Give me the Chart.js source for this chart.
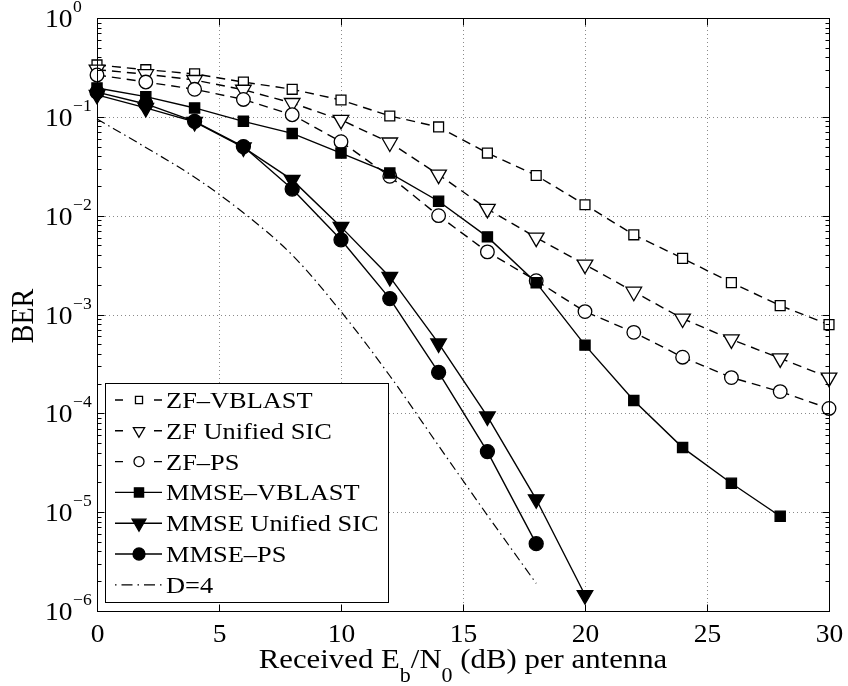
<!DOCTYPE html>
<html>
<head>
<meta charset="utf-8">
<script src="https://cdn.jsdelivr.net/npm/chart.js@4.4.1/dist/chart.umd.min.js"></script>
<style>
  html, body { margin: 0; padding: 0; background: #fff; }
  #wrap { width: 848px; height: 686px; }
</style>
</head>
<body>
<div id="wrap"><canvas id="berChart" width="848" height="686"></canvas></div>
<script>
// BER vs received Eb/N0 (dB)
const snrDb = [0, 2, 4, 6, 8, 10, 12, 14, 16, 18, 20, 22, 24, 26, 28, 30];

const zfVblast    = [0.335, 0.30, 0.272, 0.225, 0.19, 0.148, 0.102, 0.079, 0.043, 0.0255, 0.0129, 0.0064, 0.0037, 0.0021, 0.00123, 0.00079];
const zfUnified   = [0.30, 0.27, 0.236, 0.188, 0.138, 0.093, 0.055, 0.026, 0.0117, 0.006, 0.0032, 0.0017, 0.00091, 0.00056, 0.00036, 0.00023];
const zfPs        = [0.265, 0.225, 0.19, 0.15, 0.105, 0.056, 0.025, 0.0100, 0.0043, 0.0022, 0.00107, 0.00066, 0.00037, 0.00023, 0.000166, 0.000112];
const mmseVblast  = [0.196, 0.16, 0.123, 0.09, 0.068, 0.043, 0.027, 0.014, 0.0061, 0.0021, 0.00049, 0.000135, 0.000045, 0.0000196, 0.0000091];
const mmseUnified = [0.167, 0.123, 0.089, 0.049, 0.023, 0.0077, 0.0024, 0.00051, 0.000093, 0.0000135, 0.00000145];
const mmsePs      = [0.178, 0.135, 0.09, 0.05, 0.0186, 0.0057, 0.00145, 0.00026, 0.000041, 0.0000048];
const d4Bound     = [0.095, 0.049, 0.0245, 0.0107, 0.004, 0.00107, 0.00024, 0.000047, 0.0000093, 0.0000019];

const xTicks = [0, 5, 10, 15, 20, 25, 30];
const yDecades = [0, -1, -2, -3, -4, -5, -6];

const FONT = '"Liberation Serif", "Times New Roman", serif';
const STRETCH = 1.1; // the source figure is a little wider than tall

function pairs(ys) {
  return ys.map((v, i) => ({ x: snrDb[i], y: v }));
}

function series(label, ys, opts) {
  return Object.assign({
    label: label,
    data: pairs(ys),
    borderColor: '#000',
    borderWidth: 1.4,
    pointBorderColor: '#000',
    pointBorderWidth: 1.3,
    pointBackgroundColor: '#000',
    pointHoverRadius: 0,
    clip: false,
    fill: false,
    tension: 0
  }, opts);
}

const DASH = [9, 6];
const DASHDOT = [9, 4, 1.5, 4];

const datasets = [
  series('ZF\u2013VBLAST', zfVblast, { borderDash: DASH, pointStyle: 'rect', pointRadius: 7, pointBackgroundColor: '#fff', order: 7, legendRadius: 5 }),
  series('ZF Unified SIC', zfUnified, { borderDash: DASH, pointStyle: 'triangle', pointRotation: 180, pointRadius: 9, pointBackgroundColor: '#fff', order: 6, legendRadius: 6.5 }),
  series('ZF\u2013PS', zfPs, { borderDash: DASH, pointStyle: 'circle', pointRadius: 6.8, pointBackgroundColor: '#fff', order: 5, legendRadius: 5 }),
  series('MMSE\u2013VBLAST', mmseVblast, { pointStyle: 'rect', pointRadius: 7.2, order: 4, legendRadius: 6.5 }),
  series('MMSE Unified SIC', mmseUnified, { pointStyle: 'triangle', pointRotation: 180, pointRadius: 9, order: 3, legendRadius: 8 }),
  series('MMSE\u2013PS', mmsePs, { pointStyle: 'circle', pointRadius: 7, order: 2, legendRadius: 6 }),
  series('D=4', d4Bound, { borderDash: DASHDOT, borderWidth: 1.2, pointRadius: 0, cubicInterpolationMode: 'monotone', order: 1 })
];

function stretchText(ctx, str, x, y, size, align) {
  ctx.save();
  ctx.font = size + 'px ' + FONT;
  const w = ctx.measureText(str).width * STRETCH;
  const x0 = align === 'center' ? x - w / 2 : (align === 'right' ? x - w : x);
  ctx.translate(x0, y);
  ctx.scale(STRETCH, 1);
  ctx.textAlign = 'left';
  ctx.textBaseline = 'alphabetic';
  ctx.fillStyle = '#000';
  ctx.fillText(str, 0, 0);
  ctx.restore();
  return w;
}

function textWidth(ctx, str, size) {
  ctx.save();
  ctx.font = size + 'px ' + FONT;
  const w = ctx.measureText(str).width * STRETCH;
  ctx.restore();
  return w;
}

function line(ctx, x1, y1, x2, y2) {
  ctx.beginPath();
  ctx.moveTo(x1, y1);
  ctx.lineTo(x2, y2);
  ctx.stroke();
}

const matlabAxes = {
  id: 'matlabAxes',
  beforeDatasetsDraw(chart) {
    const { ctx, chartArea: a, scales: { x, y } } = chart;
    ctx.save();
    ctx.strokeStyle = '#8a8a8a';
    ctx.lineWidth = 1;
    ctx.setLineDash([1, 3]);
    xTicks.slice(1, -1).forEach(v => {
      const px = Math.round(x.getPixelForValue(v)) + 0.5;
      line(ctx, px, a.top, px, a.bottom);
    });
    yDecades.slice(1, -1).forEach(e => {
      const py = Math.round(y.getPixelForValue(Math.pow(10, e))) + 0.5;
      line(ctx, a.left, py, a.right, py);
    });
    ctx.restore();
  },
  afterDatasetsDraw(chart) {
    const { ctx, chartArea: a, scales: { x, y } } = chart;
    ctx.save();
    ctx.strokeStyle = '#000';
    ctx.lineWidth = 1;
    ctx.setLineDash([]);
    const L = Math.round(a.left) + 0.5, R = Math.round(a.right) + 0.5;
    const T = Math.round(a.top) + 0.5, B = Math.round(a.bottom) + 0.5;
    ctx.strokeRect(L, T, R - L, B - T);

    // x ticks, bottom and top, pointing inward
    xTicks.forEach(v => {
      const px = Math.round(x.getPixelForValue(v)) + 0.5;
      line(ctx, px, B, px, B - 7);
      line(ctx, px, T, px, T + 7);
      stretchText(ctx, String(v), px, 642, 25, 'center');
    });

    // y ticks: decades and minor 2..9
    yDecades.forEach(e => {
      const py = Math.round(y.getPixelForValue(Math.pow(10, e))) + 0.5;
      line(ctx, L, py, L + 7, py);
      line(ctx, R, py, R - 7, py);
      const w = stretchText(ctx, '10', 45, py + 8, 25, 'left');
      stretchText(ctx, e === 0 ? '0' : '\u2212' + (-e), 45 + w + 0.5, py - 7, 16, 'left');
      if (e > -6) {
        for (let m = 2; m <= 9; m++) {
          const pm = Math.round(y.getPixelForValue(m * Math.pow(10, e - 1))) + 0.5;
          line(ctx, L, pm, L + 4, pm);
          line(ctx, R, pm, R - 4, pm);
        }
      }
    });

    // y title
    ctx.save();
    ctx.translate(23, 316);
    ctx.rotate(-Math.PI / 2);
    ctx.scale(1, STRETCH);
    ctx.font = '28px ' + FONT;
    ctx.fillStyle = '#000';
    ctx.textAlign = 'center';
    ctx.textBaseline = 'alphabetic';
    ctx.fillText('BER', 0, 9.3);
    ctx.restore();

    // x title with subscripts
    const parts = [
      { t: 'Received E', s: 28, dy: 0 },
      { t: 'b', s: 20, dy: 14 },
      { t: '/N', s: 28, dy: 0 },
      { t: '0', s: 20, dy: 14 },
      { t: ' (dB) per antenna', s: 28, dy: 0 }
    ];
    const total = parts.reduce((acc, p) => acc + textWidth(ctx, p.t, p.s), 0);
    let cx = (a.left + a.right) / 2 - total / 2;
    parts.forEach(p => {
      cx += stretchText(ctx, p.t, cx, 668 + p.dy, p.s, 'left');
    });

    drawLegend(chart);
    ctx.restore();
  }
};

function drawLegend(chart) {
  const ctx = chart.ctx;
  const box = { left: 105.5, top: 383.5, right: 388.5, bottom: 602.5 };
  ctx.save();
  ctx.setLineDash([]);
  ctx.fillStyle = '#fff';
  ctx.fillRect(box.left, box.top, box.right - box.left, box.bottom - box.top);
  ctx.strokeStyle = '#000';
  ctx.lineWidth = 1;
  ctx.strokeRect(box.left, box.top, box.right - box.left, box.bottom - box.top);

  chart.data.datasets.forEach((ds, i) => {
    const cy = 400 + i * 30.8;
    ctx.save();
    ctx.strokeStyle = '#000';
    ctx.lineWidth = ds.borderWidth;
    if (ds.borderDash === DASH) {
      ctx.setLineDash([8, 31]);
    } else if (ds.borderDash === DASHDOT) {
      ctx.setLineDash([1.5, 5, 11, 5]);
    } else {
      ctx.setLineDash([]);
    }
    line(ctx, 115, cy, 162, cy);
    ctx.restore();
    if (ds.pointRadius > 0) {
      ctx.save();
      ctx.setLineDash([]);
      ctx.fillStyle = ds.pointBackgroundColor;
      ctx.strokeStyle = ds.pointBorderColor;
      ctx.lineWidth = ds.pointBorderWidth;
      Chart.helpers.drawPoint(ctx, {
        pointStyle: ds.pointStyle,
        rotation: ds.pointRotation || 0,
        radius: ds.legendRadius,
        borderWidth: ds.pointBorderWidth
      }, 139, cy);
      ctx.restore();
    }
    stretchText(ctx, ds.label, 166, cy + 8, 24, 'left');
  });
  ctx.restore();
}

new Chart(document.getElementById('berChart'), {
  type: 'line',
  data: { datasets: datasets },
  options: {
    responsive: false,
    devicePixelRatio: 1,
    animation: false,
    events: [],
    layout: { padding: { top: 18, right: 19, left: 0, bottom: 0 } },
    plugins: { legend: { display: false }, tooltip: { enabled: false } },
    scales: {
      x: {
        type: 'linear', min: 0, max: 30,
        ticks: { display: false },
        grid: { display: false },
        border: { display: false },
        afterFit(scale) { scale.height = 75; }
      },
      y: {
        type: 'logarithmic', min: 1e-6, max: 1,
        ticks: { display: false },
        grid: { display: false },
        border: { display: false },
        afterFit(scale) { scale.width = 97; }
      }
    }
  },
  plugins: [matlabAxes]
});
</script>
</body>
</html>
